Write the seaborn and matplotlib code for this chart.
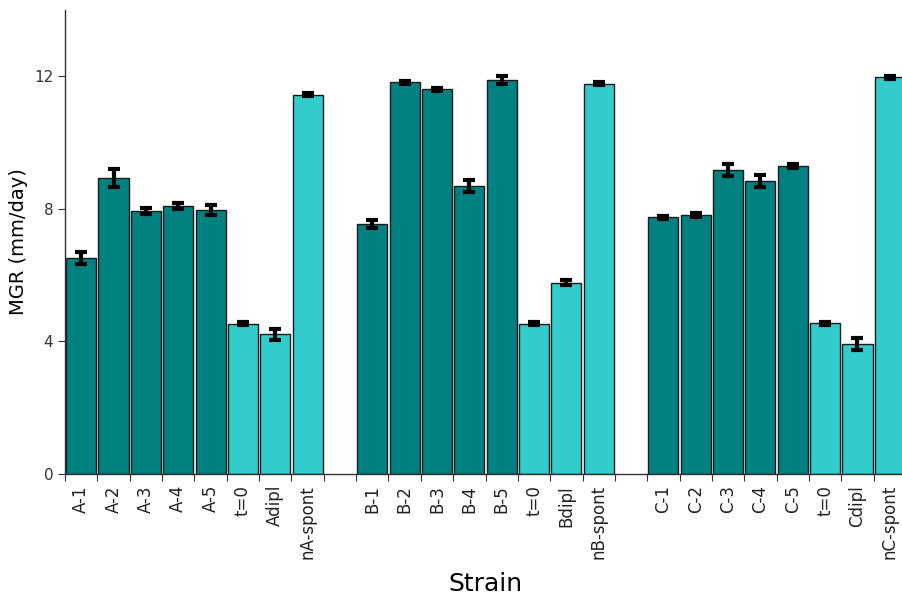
import numpy as np
import pandas as pd
import matplotlib
matplotlib.use('Agg')
import matplotlib.pyplot as plt
import seaborn as sns

# Данные
strains_a = ['A-1', 'A-2', 'A-3', 'A-4', 'A-5', 't=0', 'Adipl', 'nA-spont']
mgr_a = [6.52, 8.92, 7.94, 8.09, 7.97, 4.54, 4.21, 11.45]
err_a = [0.17, 0.27, 0.10, 0.09, 0.15, 0.05, 0.16, 0.05]

strains_b = ['B-1', 'B-2', 'B-3', 'B-4', 'B-5', 't=0', 'Bdipl', 'nB-spont']
mgr_b = [7.55, 11.82, 11.61, 8.70, 11.88, 4.54, 5.77, 11.78]
err_b = [0.12, 0.05, 0.05, 0.18, 0.12, 0.05, 0.08, 0.05]

strains_c = ['C-1', 'C-2', 'C-3', 'C-4', 'C-5', 't=0', 'Cdipl', 'nC-spont']
mgr_c = [7.74, 7.81, 9.17, 8.85, 9.29, 4.55, 3.92, 11.97]
err_c = [0.05, 0.06, 0.19, 0.18, 0.07, 0.05, 0.17, 0.05]

# тип штамма: эволюционированные (тёмные) и контрольные (светлые)
kind = ['evolved'] * 5 + ['control'] * 3

rows = []
order = []
labels = []
for g, (names, vals, errs) in zip('ABC', [(strains_a, mgr_a, err_a),
                                          (strains_b, mgr_b, err_b),
                                          (strains_c, mgr_c, err_c)]):
    for n, v, e, k in zip(names, vals, errs, kind):
        key = f'{g}:{n}'
        rows.append({'key': key, 'label': n, 'mgr': v, 'err': e, 'kind': k})
        order.append(key)
        labels.append(n)
    if g != 'C':
        order.append(f'gap{g}')
        labels.append('')

df = pd.DataFrame(rows)

fig = plt.figure(figsize=(9.02, 5.96), dpi=100)
ax = fig.add_axes([65 / 902, 122 / 596, 841 / 902, 464 / 596])

palette = {'evolved': '#008080', 'control': '#33cccc'}
sns.barplot(data=df, x='key', y='mgr', hue='kind', order=order, palette=palette,
            dodge=False, width=0.93, errorbar=None, edgecolor='#1a1a1a',
            linewidth=1.0, saturation=1, legend=False, ax=ax)

# планки погрешностей
pos = [order.index(k) for k in df['key']]
ax.errorbar(pos, df['mgr'], yerr=df['err'], fmt='none', ecolor='black',
            elinewidth=3.0, capsize=4.5, capthick=3.0, zorder=5)

ax.set_xlim(-0.5, len(order) - 0.5)
ax.set_ylim(0, 14)
ax.set_yticks([0, 4, 8, 12])
ax.set_yticklabels(['0', '4', '8', '12'], fontsize=11, color='#333333')

# метки по центрам столбцов, засечки на границах
ax.set_xticks(np.arange(len(order)) - 0.5, minor=False)
ax.set_xticklabels([''] * len(order))
ax.set_xticks(np.arange(len(order)), minor=True)
ax.set_xticklabels(labels, minor=True, rotation=90, fontsize=12, color='#222222')
ax.tick_params(axis='x', which='minor', length=0, pad=8)
ax.tick_params(axis='x', which='major', length=5, color='#333333')
ax.tick_params(axis='y', length=5, color='#333333')

for s in ['top', 'right']:
    ax.spines[s].set_visible(False)
for s in ['left', 'bottom']:
    ax.spines[s].set_color('#333333')
    ax.spines[s].set_linewidth(1.0)

ax.set_xlabel('Strain', fontsize=18, va='center')
ax.xaxis.set_label_coords(0.5, -(584 - 474) / 464)
ax.set_ylabel('MGR (mm/day)', fontsize=14, labelpad=4)

fig.savefig('out.png', dpi=100)
